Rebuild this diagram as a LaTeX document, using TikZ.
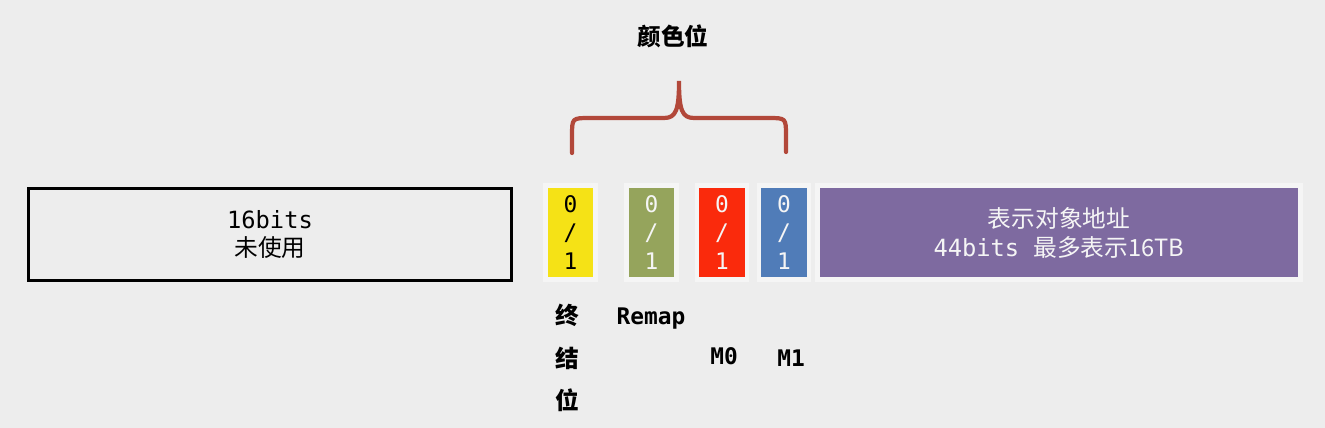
\documentclass[tikz,border=0pt]{standalone}
\usepackage{fontspec}
\setmainfont{Noto Sans CJK SC}
\setmonofont{DejaVu Sans Mono}
\usepackage{tikz}
\usetikzlibrary{shadows}
\definecolor{pagegrey}{RGB}{237,237,237}
\definecolor{bityellow}{RGB}{245,226,22}
\definecolor{bitgreen}{RGB}{149,164,92}
\definecolor{bitred}{RGB}{250,42,12}
\definecolor{bitblue}{RGB}{80,124,184}
\definecolor{addrpurple}{RGB}{126,106,160}
\definecolor{bracered}{RGB}{178,72,58}

\begin{document}
\begin{tikzpicture}[x=0.02cm, y=-0.02cm,
  bitbox/.style={draw=white!96!black, line width=2.8pt, minimum width=1cm, minimum height=1.88cm,
    inner sep=0pt, align=center, text=white!96!black, font=\ttfamily\fontsize{13}{16}\selectfont,
    drop shadow={opacity=0.18, shadow xshift=0.6pt, shadow yshift=-0.8pt}},
  unusedbox/.style={draw=black, line width=1.7pt, fill=pagegrey, minimum width=9.66cm, minimum height=1.84cm,
    inner sep=0pt, align=center, font=\fontsize{13.5}{16.5}\selectfont},
  fieldlabel/.style={align=center, inner sep=0pt, font=\bfseries\fontsize{13.5}{24}\selectfont}
]
  \fill[pagegrey] (0,0) rectangle (1325,428);
  \useasboundingbox (0,0) rectangle (1325,428);

  \node[unusedbox] (unused) at (270,234.5) {{\ttfamily 16bits}\\未使用};

  \node[bitbox, fill=bityellow, text=black] (finalbit) at (570.5,232.5) {0\\/\\1};
  \node[bitbox, fill=bitgreen] (remapbit) at (651.5,232.5) {0\\/\\1};
  \node[bitbox, fill=bitred] (mzerobit) at (722,232.5) {0\\/\\1};
  \node[bitbox, fill=bitblue] (monebit) at (784,232.5) {0\\/\\1};
  \node[bitbox, fill=addrpurple, minimum width=9.66cm, font=\fontsize{13.5}{16.5}\selectfont] (address) at (1059,232.5)
    {表示对象地址\\{\ttfamily 44bits\ }最多表示16TB};

  % colour bits brace
  \draw[bracered, line width=2.4pt, line cap=round]
    (572,153) -- (572,136) .. controls (572,118) .. (590,118) -- (664,118)
    .. controls (676,118) and (679,110) .. (679,81)
    .. controls (679,110) and (682,118) .. (694,118) -- (768,118)
    .. controls (786,118) .. (786,136) -- (786,152);
  \node[fieldlabel] (colourlabel) at (673,36) {颜色位};

  \node[fieldlabel] (finallabel) at (567,358) {终\\结\\位};
  \node[fieldlabel, font=\ttfamily\bfseries\fontsize{13}{16}\selectfont] (remaplabel) at (651,319) {Remap};
  \node[fieldlabel, font=\ttfamily\bfseries\fontsize{13}{16}\selectfont] (mzerolabel) at (724,356) {M0};
  \node[fieldlabel, font=\ttfamily\bfseries\fontsize{13}{16}\selectfont] (monelabel) at (791,358) {M1};
\end{tikzpicture}
\end{document}
